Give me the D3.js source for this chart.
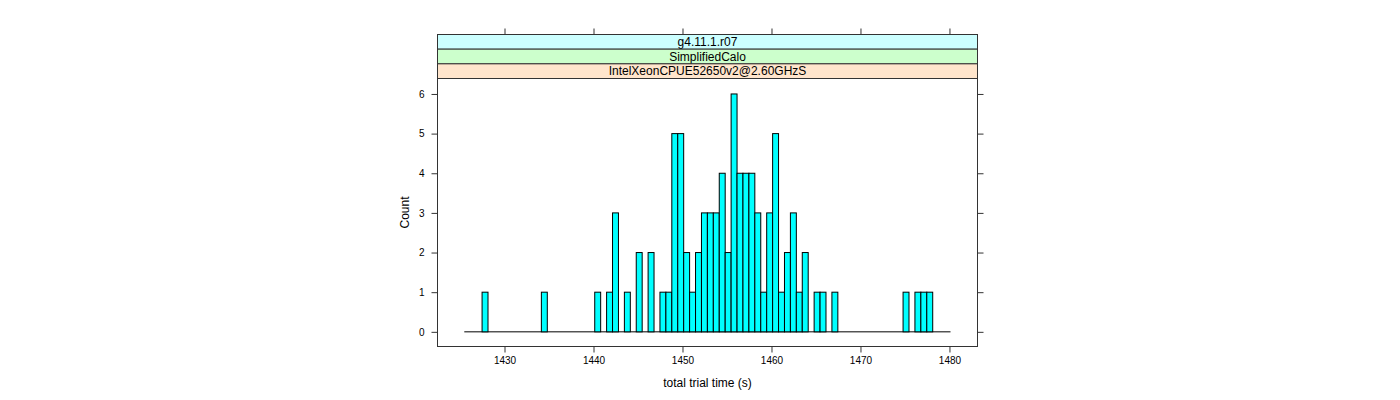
<!DOCTYPE html>
<html><head><meta charset="utf-8">
<script src="https://cdn.jsdelivr.net/npm/d3@7"></script>
<style>body{margin:0;background:#fff}</style>
</head><body><svg id="c" width="1400" height="400"></svg>
<script>
// ---- data ----
const binStart = 1425.48;      // first break (s)
const binWidth = 0.6663;       // break width (s)
const counts = [
  0,0,0,1,0,0,0,0,0,0,
  0,0,0,1,0,0,0,0,0,0,
  0,0,1,0,1,3,0,1,0,2,
  0,2,0,1,1,5,5,2,1,2,
  3,3,3,4,2,6,4,4,4,3,
  1,3,5,1,2,3,1,2,0,1,
  1,0,1,0,0,0,0,0,0,0,
  0,0,0,0,1,0,1,1,1,0,
  0,0
];
const xTicks = [1430,1440,1450,1460,1470,1480];
const yTicks = [0,1,2,3,4,5,6];
const stripLabels = ["g4.11.1.r07","SimplifiedCalo","IntelXeonCPUE52650v2@2.60GHzS"];
const stripColors = ["#ccffff","#ccffcc","#ffe5cc"];
const xLabel = "total trial time (s)";
const yLabel = "Count";

// ---- layout ----
const L = 437.5, R = 977.5, stripTop = 34.5, stripH = 14.667, panelTop = stripTop + 3*stripH, B = 346.5;
const font = "'Liberation Sans', Arial, Helvetica, sans-serif";
const axisCol = "#333";

const svg = d3.select("#c");
const x = d3.scaleLinear().domain([1422.47, 1483.15]).range([L, R]);
const y = d3.scaleLinear().domain([-0.37, 6.39]).range([B, panelTop]);

const bins = counts.map((c, i) => ({x0: binStart + i*binWidth, x1: binStart + (i+1)*binWidth, c}));

// baseline (zero-height bins)
svg.append("line")
  .attr("x1", x(bins[0].x0)).attr("x2", x(bins[bins.length-1].x1))
  .attr("y1", y(0)).attr("y2", y(0))
  .attr("stroke", "#000").attr("stroke-width", 1);

svg.append("g").selectAll("rect").data(bins.filter(d => d.c > 0)).join("rect")
  .attr("x", d => x(d.x0)).attr("width", d => x(d.x1) - x(d.x0))
  .attr("y", d => y(d.c)).attr("height", d => y(0) - y(d.c))
  .attr("fill", "#00ffff").attr("stroke", "#000").attr("stroke-width", 1);

// strips
stripLabels.forEach((t, i) => {
  const yy = stripTop + i*stripH;
  svg.append("rect").attr("x", L).attr("y", yy).attr("width", R-L).attr("height", stripH)
    .attr("fill", stripColors[i]).attr("stroke", axisCol).attr("stroke-width", 1);
  svg.append("text").attr("x", (L+R)/2).attr("y", yy + stripH/2 + 4.3)
    .attr("text-anchor", "middle").attr("font-family", font).attr("font-size", 12)
    .attr("fill", "#000").text(t);
});

// panel border
svg.append("rect").attr("x", L).attr("y", stripTop).attr("width", R-L).attr("height", B-stripTop)
  .attr("fill", "none").attr("stroke", axisCol).attr("stroke-width", 1);

// axes
const gB = svg.append("g").attr("transform", `translate(0,${B})`)
  .call(d3.axisBottom(x).tickValues(xTicks).tickSize(6).tickPadding(4).tickFormat(d3.format("d")));
const gT = svg.append("g").attr("transform", `translate(0,${stripTop})`)
  .call(d3.axisTop(x).tickValues(xTicks).tickSize(6).tickFormat(""));
const gL = svg.append("g").attr("transform", `translate(${L},0)`)
  .call(d3.axisLeft(y).tickValues(yTicks).tickSize(6).tickPadding(7).tickFormat(d3.format("d")));
const gR = svg.append("g").attr("transform", `translate(${R},0)`)
  .call(d3.axisRight(y).tickValues(yTicks).tickSize(6).tickFormat(""));
[gB, gT, gL, gR].forEach(g => {
  g.select(".domain").remove();
  g.selectAll(".tick line").attr("stroke", axisCol);
  g.selectAll("text").attr("font-family", font).attr("font-size", 10).attr("fill", "#000");
});

svg.append("text").attr("x", (L+R)/2).attr("y", 387).attr("text-anchor", "middle")
  .attr("font-family", font).attr("font-size", 12).text(xLabel);
svg.append("text").attr("transform", `translate(409,${(panelTop+B)/2}) rotate(-90)`)
  .attr("text-anchor", "middle").attr("font-family", font).attr("font-size", 12).text(yLabel);
</script>
</body></html>
